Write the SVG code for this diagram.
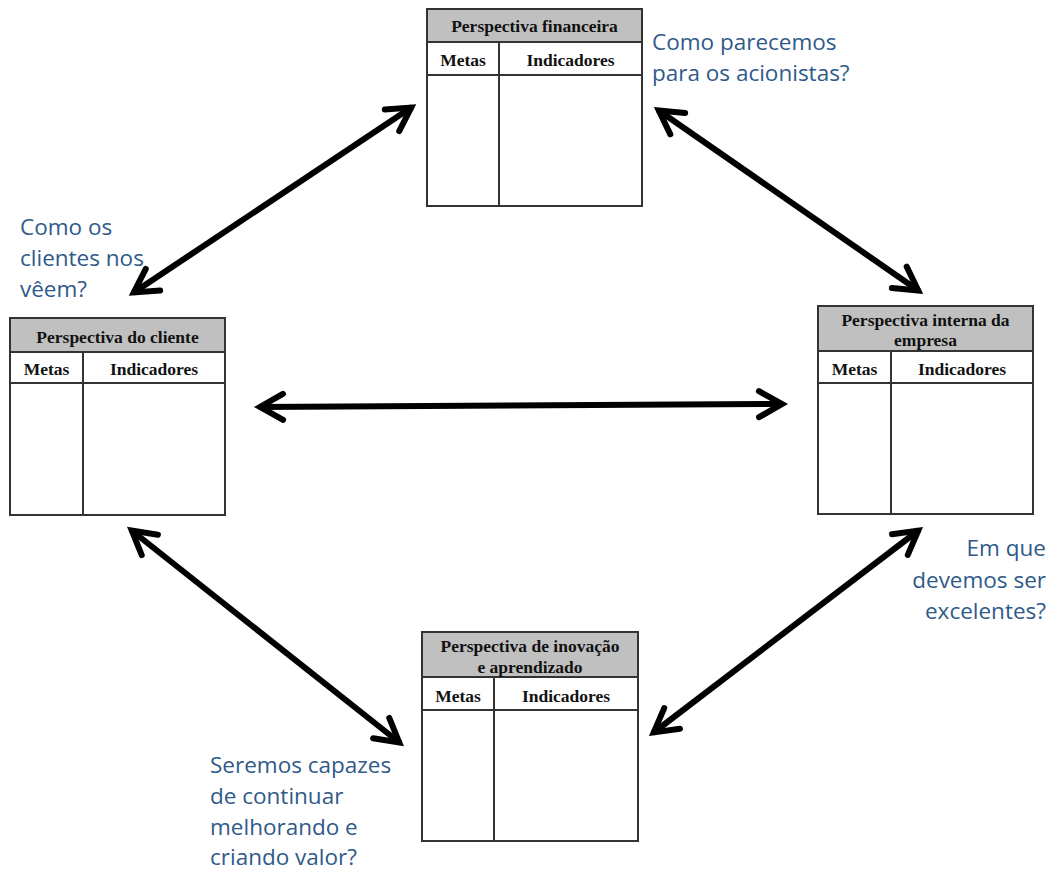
<svg xmlns="http://www.w3.org/2000/svg" width="1053" height="873" viewBox="0 0 1053 873">
<style>
.cell{fill:#fff;stroke:#333;stroke-width:2}
.hdr{fill:#c0c0c0;stroke:#333;stroke-width:2}
.ln{stroke:#333;stroke-width:2}
.tt{font-family:"Liberation Serif",serif;font-weight:bold;font-size:17.5px;fill:#111;text-anchor:middle}
.q{font-family:"Open Sans","Noto Sans",sans-serif;font-size:22.5px;fill:#2f5a89}
.arr{stroke:#000;stroke-width:6;fill:none;marker-start:url(#ah);marker-end:url(#ah)}
</style>
<defs>
<marker id="ah" markerUnits="userSpaceOnUse" viewBox="-34 -20 44 40" refX="0" refY="0" markerWidth="44" markerHeight="40" orient="auto-start-reverse">
<path d="M -24 -13 L -1 0 L -24 13" fill="none" stroke="#000" stroke-width="6" stroke-linecap="round" stroke-linejoin="miter"/>
</marker>
</defs>
<rect width="1053" height="873" fill="#fff"/>
<g id="connectors">
<line class="arr" x1="133" y1="293" x2="412" y2="107"/>
<line class="arr" x1="658" y1="110" x2="919" y2="291"/>
<line class="arr" x1="259" y1="407" x2="783" y2="404"/>
<line class="arr" x1="131" y1="530" x2="400" y2="743"/>
<line class="arr" x1="653" y1="733" x2="919" y2="530"/>
</g>
<g id="financeira">
<rect class="cell" x="427" y="9" width="215" height="197"/>
<rect class="hdr" x="427" y="9" width="215" height="33"/>
<line class="ln" x1="427" y1="75" x2="642" y2="75"/>
<line class="ln" x1="499" y1="42" x2="499" y2="206"/>
<text class="tt" x="534.5" y="32">Perspectiva financeira</text>
<text class="tt" x="463" y="66">Metas</text>
<text class="tt" x="570.5" y="66">Indicadores</text>
</g>
<g id="cliente">
<rect class="cell" x="10" y="318" width="215" height="197"/>
<rect class="hdr" x="10" y="318" width="215" height="34"/>
<line class="ln" x1="10" y1="383" x2="225" y2="383"/>
<line class="ln" x1="83" y1="352" x2="83" y2="515"/>
<text class="tt" x="117.5" y="343">Perspectiva do cliente</text>
<text class="tt" x="46.5" y="375">Metas</text>
<text class="tt" x="154" y="375">Indicadores</text>
</g>
<g id="interna">
<rect class="cell" x="818" y="306" width="215" height="208"/>
<rect class="hdr" x="818" y="306" width="215" height="45"/>
<line class="ln" x1="818" y1="383" x2="1033" y2="383"/>
<line class="ln" x1="891" y1="351" x2="891" y2="514"/>
<text class="tt" x="925.5" y="326">Perspectiva interna da</text>
<text class="tt" x="925.5" y="346">empresa</text>
<text class="tt" x="854.5" y="375">Metas</text>
<text class="tt" x="962" y="375">Indicadores</text>
</g>
<g id="inovacao">
<rect class="cell" x="422" y="632" width="216" height="209"/>
<rect class="hdr" x="422" y="632" width="216" height="45"/>
<line class="ln" x1="422" y1="710" x2="638" y2="710"/>
<line class="ln" x1="494" y1="677" x2="494" y2="841"/>
<text class="tt" x="530" y="652">Perspectiva de inovação</text>
<text class="tt" x="530" y="673">e aprendizado</text>
<text class="tt" x="458" y="702">Metas</text>
<text class="tt" x="566" y="702">Indicadores</text>
</g>
<g id="labels">
<text class="q" x="652" y="50">Como parecemos</text>
<text class="q" x="652" y="81">para os acionistas?</text>
<text class="q" x="20" y="235">Como os</text>
<text class="q" x="20" y="266">clientes nos</text>
<text class="q" x="20" y="297">vêem?</text>
<text class="q" x="1046" y="556" text-anchor="end">Em que</text>
<text class="q" x="1046" y="588" text-anchor="end">devemos ser</text>
<text class="q" x="1046" y="619" text-anchor="end">excelentes?</text>
<text class="q" x="210" y="773">Seremos capazes</text>
<text class="q" x="210" y="804">de continuar</text>
<text class="q" x="210" y="835">melhorando e</text>
<text class="q" x="210" y="865">criando valor?</text>
</g>
</svg>
